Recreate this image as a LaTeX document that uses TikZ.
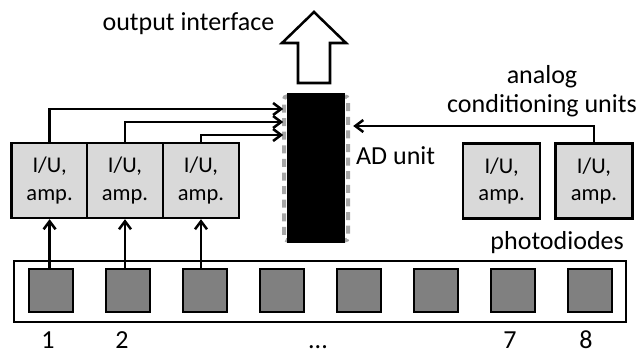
\documentclass[tikz,border=0pt]{standalone}
\usepackage{fontspec}
\setmainfont{Carlito}
\usetikzlibrary{arrows.meta,positioning}
\definecolor{ampgray}{HTML}{D9D9D9}
\definecolor{diodegray}{HTML}{808080}
\definecolor{pingray}{HTML}{A6A6A6}

\begin{document}
\begin{tikzpicture}[font=\fontsize{18.5}{20}\selectfont,
  ampbox/.style={draw,line width=1.8pt,fill=ampgray,minimum width=1.9cm,minimum height=1.875cm,
    inner sep=0pt,align=center,font=\fontsize{16}{19.8}\selectfont},
  diode/.style={draw,line width=1.8pt,fill=diodegray,minimum width=1.1cm,minimum height=1.075cm,inner sep=0pt},
  number/.style={anchor=base,inner sep=0pt},
  wire/.style={line width=1.8pt,-{Straight Barb[length=2mm,width=3mm]}}]
  \useasboundingbox (0,0) rectangle (16.1,-8.85);

  % photodiode strip
  \node[draw,line width=1.8pt,minimum width=15.3cm,minimum height=1.525cm] (strip) at (8.0,-7.29) {};
  \foreach \i in {1,...,8}
    \node[diode] (pd\i) at ({1.275+1.925*(\i-1)},-7.26) {};
  \node[anchor=east] (pdlabel) at (15.72,-6.07) {photodiodes};
  \node[number] (n1) at (1.2,-8.72) {1};
  \node[number] (n2) at (3.05,-8.72) {2};
  \node[number] (ndots) at (7.95,-8.72) {...};
  \node[number] (n7) at (12.75,-8.72) {7};
  \node[number] (n8) at (14.65,-8.72) {8};

  % conditioning units
  \node[ampbox] (amp1) at (1.24,-4.51) {I/U,\\amp.};
  \node[ampbox] (amp2) at (3.125,-4.51) {I/U,\\amp.};
  \node[ampbox] (amp3) at (5.025,-4.51) {I/U,\\amp.};
  \node[ampbox,minimum width=1.925cm] (amp7) at (12.54,-4.525) {I/U,\\amp.};
  \node[ampbox,minimum width=1.925cm] (amp8) at (14.85,-4.525) {I/U,\\amp.};
  \node[align=center] (condlabel) at (13.55,-2.28) {analog\\conditioning units};

  % AD converter
  \node[draw=pingray,line width=0.1cm,dash pattern=on 0.2cm off 0.14cm,rounded corners=2pt,
    minimum width=1.6cm,minimum height=3.6cm] (pins) at (7.9,-4.21) {};
  \node[fill=black,minimum width=1.45cm,minimum height=3.75cm] (chip) at (7.9,-4.2) {};
  \node[anchor=west] (adlabel) at (8.78,-3.9) {AD unit};
  \coordinate (in1) at (7.08,-2.725);
  \coordinate (in2) at (7.08,-3.05);
  \coordinate (in3) at (7.08,-3.375);
  \coordinate (in8) at (8.83,-3.15);

  % output
  \draw[line width=1.8pt,fill=white] (7.85,-0.3) -- (8.65,-1.075) -- (8.25,-1.075) -- (8.25,-2.075)
    -- (7.45,-2.075) -- (7.45,-1.075) -- (7.05,-1.075) -- cycle;
  \node[anchor=east] (outlabel) at (6.98,-0.6) {output interface};

  % connections
  \foreach \i in {1,2,3} {
    \draw[wire] (amp\i.south |- pd\i.north) -- (amp\i.south);
    \draw[wire] (amp\i.north) |- (in\i);
  }
  \draw[wire] (amp8.north) |- (in8);
\end{tikzpicture}
\end{document}
